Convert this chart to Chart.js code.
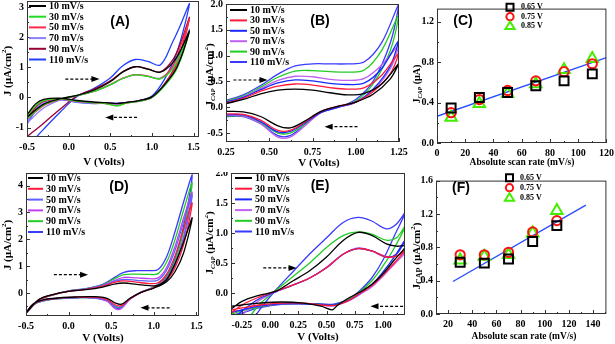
<!DOCTYPE html>
<html>
<head>
<meta charset="utf-8">
<script src="https://cdn.jsdelivr.net/npm/chart.js@4.4.1/dist/chart.umd.min.js"></script>
<style>
  body { margin: 0; background: #fff; }
  #page { position: relative; width: 615px; height: 344px; overflow: hidden; }
  canvas { position: absolute; }
</style>
</head>
<body>
<div id="page">
  <canvas id="cA" width="205" height="172" style="left:0;top:0"></canvas>
  <canvas id="cB" width="205" height="172" style="left:205px;top:0"></canvas>
  <canvas id="cC" width="205" height="172" style="left:410px;top:0"></canvas>
  <canvas id="cD" width="205" height="172" style="left:0;top:172px"></canvas>
  <canvas id="cE" width="205" height="172" style="left:205px;top:172px"></canvas>
  <canvas id="cF" width="205" height="172" style="left:410px;top:172px"></canvas>
</div>
<script>
const SERIF = '"Liberation Serif", "Times New Roman", serif';
const SANS = '"Liberation Sans", Arial, sans-serif';

// ---- shared ----
const scanRates = ['10 mV/s', '30 mV/s', '50 mV/s', '70 mV/s', '90 mV/s', '110 mV/s'];
const rateAxis = [10, 30, 50, 70, 90, 110];

// ---- panel A : CV, J (uA/cm2) vs V ----
const aVfwd = [-0.5, -0.3, -0.1, 0.1, 0.3, 0.5, 0.65, 0.8, 0.95, 1.1, 1.25, 1.35, 1.45];
const aJfwd = [
  [-0.65, -0.22, -0.04, 0.07, 0.24, 0.52, 0.85, 1.02, 0.94, 0.84, 1.15, 1.6, 2.2],
  [-0.7, -0.25, -0.05, 0.06, 0.2, 0.42, 0.63, 0.75, 0.7, 0.62, 0.95, 1.5, 2.2],
  [-0.72, -0.27, -0.06, 0.06, 0.2, 0.43, 0.64, 0.76, 0.71, 0.63, 1.05, 1.75, 2.6],
  [-0.85, -0.35, -0.08, 0.06, 0.2, 0.42, 0.63, 0.75, 0.71, 0.64, 1.0, 1.55, 2.25],
  [-1.3, -0.85, -0.38, 0.05, 0.27, 0.55, 0.85, 1.02, 0.95, 0.85, 1.25, 1.85, 2.65],
  [-1.65, -1.05, -0.48, 0.03, 0.3, 0.65, 1.05, 1.26, 1.2, 1.08, 1.85, 2.45, 3.1]
];
const aVrev = [1.3, 1.15, 1.0, 0.85, 0.7, 0.58, 0.45, 0.3, 0.1, -0.1, -0.3, -0.4, -0.5];
const aJrev = [
  [1.0, 0.42, 0.02, -0.1, -0.16, -0.2, -0.17, -0.15, -0.1, -0.02, -0.06, -0.22, -0.58],
  [0.95, 0.38, 0.0, -0.12, -0.18, -0.28, -0.2, -0.17, -0.12, -0.04, -0.1, -0.28, -0.62],
  [1.1, 0.42, 0.0, -0.12, -0.18, -0.27, -0.2, -0.18, -0.13, -0.05, -0.12, -0.3, -0.68],
  [1.0, 0.4, 0.0, -0.12, -0.18, -0.22, -0.2, -0.19, -0.15, -0.07, -0.18, -0.4, -0.82],
  [1.15, 0.45, 0.02, -0.1, -0.16, -0.2, -0.18, -0.17, -0.13, -0.05, -0.14, -0.35, -0.7],
  [1.5, 0.6, 0.05, -0.1, -0.16, -0.19, -0.19, -0.2, -0.16, -0.08, -0.22, -0.45, -0.88]
];
const aColors = ['#000000', '#22dd22', '#ff2a4a', '#8a7fff', '#990033', '#2040ff'];
const aXTicks = [-0.5, 0, 0.5, 1.0, 1.5];
const aYTicks = [-1, 0, 1, 2, 3];

// ---- panel B : CV, J_CAP vs V ----
const bVfwd = [0.25, 0.35, 0.45, 0.55, 0.65, 0.75, 0.85, 0.95, 1.05, 1.15, 1.25];
const bJfwd = [
  [0.07, 0.15, 0.26, 0.33, 0.35, 0.33, 0.28, 0.24, 0.27, 0.45, 0.85],
  [0.08, 0.17, 0.31, 0.41, 0.45, 0.43, 0.38, 0.35, 0.38, 0.62, 1.05],
  [0.1, 0.19, 0.34, 0.47, 0.53, 0.51, 0.46, 0.44, 0.47, 0.75, 1.3],
  [0.1, 0.2, 0.36, 0.52, 0.6, 0.59, 0.54, 0.52, 0.56, 0.82, 1.2],
  [0.12, 0.22, 0.39, 0.58, 0.7, 0.71, 0.69, 0.68, 0.72, 1.1, 1.8],
  [0.13, 0.24, 0.42, 0.64, 0.8, 0.84, 0.84, 0.84, 0.88, 1.25, 2.0]
];
const bVrev = [1.2, 1.1, 1.0, 0.9, 0.8, 0.7, 0.62, 0.55, 0.45, 0.35, 0.25];
const bJrev = [
  [0.55, 0.25, 0.1, 0.02, -0.08, -0.28, -0.4, -0.36, -0.18, -0.09, -0.08],
  [0.65, 0.3, 0.1, 0.02, -0.08, -0.3, -0.45, -0.45, -0.25, -0.14, -0.13],
  [0.8, 0.35, 0.1, 0.0, -0.1, -0.32, -0.47, -0.48, -0.28, -0.15, -0.15],
  [0.75, 0.32, 0.1, 0.0, -0.1, -0.38, -0.58, -0.58, -0.32, -0.17, -0.16],
  [1.1, 0.45, 0.12, 0.0, -0.1, -0.35, -0.5, -0.5, -0.3, -0.17, -0.17],
  [1.25, 0.5, 0.15, 0.0, -0.1, -0.35, -0.55, -0.55, -0.32, -0.18, -0.18]
];
const bColors = ['#000000', '#ff1a3a', '#1a2aff', '#c060f0', '#22cc22', '#3a3aff'];
const bXTicks = [0.25, 0.5, 0.75, 1.0, 1.25];
const bYTicks = [-0.5, 0, 0.5, 1.0, 1.5, 2.0];

// ---- panel C : J_CAP (uA) vs scan rate ----
const c065 = [0.347, 0.45, 0.5, 0.566, 0.615, 0.684];
const c075 = [0.3, 0.43, 0.52, 0.615, 0.706, 0.784];
const c085 = [0.253, 0.39, 0.49, 0.584, 0.725, 0.834];
const cFitX = [0, 120];
const cFitY = [0.265, 0.845];
const cXTicks = [0, 20, 40, 60, 80, 100, 120];
const cYTicks = [0, 0.4, 0.8, 1.2];

// ---- panel D : CV, J (uA/cm2) vs V ----
const dVfwd = [-0.5, -0.35, -0.2, 0.0, 0.2, 0.4, 0.55, 0.65, 0.8, 0.95, 1.05, 1.15, 1.25, 1.35, 1.45];
const dJfwd = [
  [-0.75, -0.25, -0.07, 0.06, 0.12, 0.22, 0.34, 0.37, 0.32, 0.27, 0.28, 0.5, 1.1, 1.9, 2.8],
  [-0.75, -0.26, -0.08, 0.06, 0.13, 0.25, 0.4, 0.45, 0.4, 0.35, 0.38, 0.7, 1.4, 2.4, 3.35],
  [-0.75, -0.26, -0.08, 0.07, 0.14, 0.27, 0.44, 0.5, 0.47, 0.44, 0.48, 0.85, 1.6, 2.65, 3.65],
  [-0.75, -0.27, -0.08, 0.07, 0.14, 0.28, 0.48, 0.58, 0.56, 0.53, 0.56, 0.95, 1.75, 2.8, 3.75],
  [-0.75, -0.27, -0.09, 0.07, 0.15, 0.3, 0.55, 0.68, 0.7, 0.69, 0.72, 1.15, 2.0, 3.1, 4.1],
  [-0.75, -0.28, -0.09, 0.08, 0.16, 0.32, 0.6, 0.77, 0.83, 0.83, 0.87, 1.35, 2.3, 3.4, 4.4]
];
const dVrev = [1.35, 1.25, 1.15, 1.0, 0.85, 0.72, 0.62, 0.55, 0.45, 0.3, 0.1, -0.1, -0.3, -0.42, -0.5];
const dJrev = [
  [1.5, 0.8, 0.42, 0.18, 0.02, -0.2, -0.42, -0.38, -0.2, -0.14, -0.15, -0.18, -0.26, -0.42, -0.75],
  [1.8, 0.95, 0.48, 0.2, 0.02, -0.22, -0.47, -0.45, -0.24, -0.16, -0.16, -0.19, -0.27, -0.43, -0.75],
  [2.0, 1.05, 0.52, 0.2, 0.02, -0.22, -0.5, -0.5, -0.26, -0.17, -0.17, -0.2, -0.28, -0.44, -0.75],
  [2.1, 1.1, 0.54, 0.21, 0.02, -0.24, -0.58, -0.6, -0.3, -0.18, -0.17, -0.2, -0.29, -0.45, -0.75],
  [2.3, 1.2, 0.58, 0.22, 0.02, -0.22, -0.52, -0.52, -0.28, -0.18, -0.18, -0.21, -0.3, -0.46, -0.75],
  [2.5, 1.3, 0.62, 0.23, 0.03, -0.22, -0.55, -0.55, -0.3, -0.19, -0.18, -0.21, -0.3, -0.46, -0.75]
];
const dColors = ['#000000', '#ff1a3a', '#6060ff', '#c040f0', '#22cc22', '#3a3aff'];
const dXTicks = [-0.5, 0, 0.5, 1.0, 1.5];
const dYTicks = [0, 1, 2, 3, 4];

// ---- panel E : CV, J_CAP vs V ----
const eVfwd = [-0.34, -0.25, -0.1, 0.05, 0.2, 0.35, 0.5, 0.65, 0.78, 0.9, 1.03, 1.12, 1.2];
const eJfwd = [
  [-0.26, -0.14, -0.04, 0.03, 0.2, 0.37, 0.6, 0.88, 1.01, 0.96, 0.82, 0.78, 0.78],
  [-0.33, -0.2, -0.07, 0.03, 0.13, 0.25, 0.42, 0.65, 0.74, 0.7, 0.6, 0.62, 0.72],
  [-0.45, -0.3, -0.1, 0.02, 0.13, 0.25, 0.42, 0.65, 0.74, 0.7, 0.6, 0.65, 0.9],
  [-0.55, -0.37, -0.13, 0.02, 0.13, 0.25, 0.43, 0.65, 0.75, 0.7, 0.61, 0.62, 0.68],
  [-0.8, -0.58, -0.2, 0.04, 0.27, 0.5, 0.76, 0.96, 1.02, 0.98, 0.88, 0.92, 1.13],
  [-1.0, -0.75, -0.3, 0.05, 0.35, 0.65, 0.92, 1.18, 1.26, 1.2, 1.07, 1.15, 1.35]
];
const eVrev = [1.1, 1.0, 0.9, 0.8, 0.7, 0.6, 0.55, 0.45, 0.3, 0.1, -0.1, -0.25, -0.34];
const eJrev = [
  [0.55, 0.32, 0.14, 0.02, -0.08, -0.2, -0.28, -0.22, -0.17, -0.15, -0.17, -0.2, -0.22],
  [0.5, 0.3, 0.12, 0.0, -0.12, -0.2, -0.21, -0.2, -0.17, -0.17, -0.2, -0.25, -0.28],
  [0.6, 0.35, 0.14, 0.0, -0.12, -0.18, -0.2, -0.19, -0.18, -0.18, -0.22, -0.28, -0.32],
  [0.48, 0.28, 0.1, -0.02, -0.13, -0.2, -0.22, -0.2, -0.18, -0.18, -0.22, -0.28, -0.32],
  [0.75, 0.45, 0.2, 0.03, -0.1, -0.18, -0.2, -0.19, -0.18, -0.18, -0.23, -0.3, -0.35],
  [0.95, 0.55, 0.25, 0.05, -0.1, -0.17, -0.19, -0.18, -0.18, -0.19, -0.25, -0.33, -0.37]
];
const eColors = ['#000000', '#ff1a3a', '#1a2aff', '#c060f0', '#22cc22', '#3a3aff'];
const eXTicks = [-0.25, 0, 0.25, 0.5, 0.75, 1.0];
const eYTicks = [0, 0.5, 1.0, 1.5, 2.0];

// ---- panel F : J_CAP (uA/cm2) vs scan rate ----
const fRates = [30, 50, 70, 90, 110];
const f065 = [0.62, 0.61, 0.66, 0.87, 1.06];
const f075 = [0.71, 0.71, 0.74, 0.985, 1.12];
const f085 = [0.645, 0.69, 0.71, 0.97, 1.24];
const fFitX = [24, 134];
const fFitY = [0.39, 1.306];
const fXTicks = [20, 40, 60, 80, 100, 120, 140];
const fYTicks = [0, 0.4, 0.8, 1.2, 1.6];

const potentials = ['0.65 V', '0.75 V', '0.85 V'];

// ---------- helpers ----------
function cvDatasets(vf, jf, vr, jr, colors) {
  return scanRates.map((lab, i) => ({
    label: lab,
    data: vf.map((v, k) => ({ x: v, y: jf[i][k] })).concat(vr.map((v, k) => ({ x: v, y: jr[i][k] }))),
    showLine: true,
    borderColor: colors[i],
    borderWidth: 1.3,
    pointRadius: 0,
    tension: 0.35,
    fill: false
  }));
}

function pointDatasets(xs, sets, fitX, fitY) {
  const styles = [
    { pointStyle: 'rect', color: '#000000', r: 6.3 },
    { pointStyle: 'circle', color: '#ff1010', r: 4.6 },
    { pointStyle: 'triangle', color: '#44ee00', r: 6.6 }
  ];
  const ds = sets.map((vals, i) => ({
    label: potentials[i],
    data: xs.map((x, k) => ({ x: x, y: vals[k] })),
    pointStyle: styles[i].pointStyle,
    pointRadius: styles[i].r,
    pointBorderWidth: 2,
    borderColor: styles[i].color,
    backgroundColor: 'rgba(0,0,0,0)',
    showLine: false
  }));
  ds.push({
    label: 'fit',
    data: fitX.map((x, k) => ({ x: x, y: fitY[k] })),
    showLine: true,
    borderColor: '#2a4cff',
    borderWidth: 1.4,
    pointRadius: 0,
    skipLegend: true
  });
  return ds;
}

function drawRich(ctx, parts, cx, cy, rotate) {
  let total = 0;
  parts.forEach(p => {
    ctx.font = (p.it ? 'italic ' : '') + 'bold ' + p.s + 'px ' + SERIF;
    p.w = ctx.measureText(p.t).width;
    total += p.w;
  });
  ctx.save();
  ctx.translate(cx, cy);
  if (rotate) ctx.rotate(-Math.PI / 2);
  ctx.fillStyle = '#000';
  ctx.textBaseline = 'middle';
  ctx.textAlign = 'left';
  let x = -total / 2;
  parts.forEach(p => {
    ctx.font = (p.it ? 'italic ' : '') + 'bold ' + p.s + 'px ' + SERIF;
    ctx.fillText(p.t, x, p.dy || 0);
    x += p.w;
  });
  ctx.restore();
}

function minorTicks(ticks, min, max) {
  const step = ticks[1] - ticks[0];
  const out = [];
  for (let i = -1; i < ticks.length; i++) {
    const v = (i < 0 ? ticks[0] - step : ticks[i]) + step / 2;
    if (v > min && v < max) out.push(v);
  }
  return out;
}

function makeDecor(cfg) {
  return {
    id: 'decor',
    afterDraw(chart) {
      const ctx = chart.ctx;
      const ca = chart.chartArea;
      const sx = chart.scales.x, sy = chart.scales.y;
      const ox = cfg.box[0], oy = cfg.box[1];
      ctx.save();

      // frame
      ctx.strokeStyle = '#333';
      ctx.lineWidth = 1;
      ctx.strokeRect(ca.left + 0.5, ca.top + 0.5, ca.right - ca.left - 1, ca.bottom - ca.top - 1);

      // inward ticks
      ctx.strokeStyle = '#333';
      ctx.beginPath();
      cfg.x.ticks.forEach(v => {
        const p = Math.round(sx.getPixelForValue(v)) + 0.5;
        ctx.moveTo(p, ca.bottom); ctx.lineTo(p, ca.bottom - 4);
      });
      minorTicks(cfg.x.ticks, cfg.x.min, cfg.x.max).forEach(v => {
        const p = Math.round(sx.getPixelForValue(v)) + 0.5;
        ctx.moveTo(p, ca.bottom); ctx.lineTo(p, ca.bottom - 2);
      });
      cfg.y.ticks.forEach(v => {
        const p = Math.round(sy.getPixelForValue(v)) + 0.5;
        ctx.moveTo(ca.left, p); ctx.lineTo(ca.left + 4, p);
      });
      minorTicks(cfg.y.ticks, cfg.y.min, cfg.y.max).forEach(v => {
        const p = Math.round(sy.getPixelForValue(v)) + 0.5;
        ctx.moveTo(ca.left, p); ctx.lineTo(ca.left + 2, p);
      });
      ctx.stroke();

      // dashed arrows
      (cfg.arrows || []).forEach(a => {
        const x1 = sx.getPixelForValue(a.from), x2 = sx.getPixelForValue(a.to);
        const y = sy.getPixelForValue(a.y);
        const dir = Math.sign(x2 - x1);
        ctx.strokeStyle = '#000';
        ctx.lineWidth = 1.2;
        ctx.setLineDash([3, 2]);
        ctx.beginPath();
        ctx.moveTo(x1, y); ctx.lineTo(x2 - dir * 7, y);
        ctx.stroke();
        ctx.setLineDash([]);
        ctx.fillStyle = '#000';
        ctx.beginPath();
        ctx.moveTo(x2, y);
        ctx.lineTo(x2 - dir * 8, y - 3);
        ctx.lineTo(x2 - dir * 8, y + 3);
        ctx.closePath();
        ctx.fill();
      });

      // legends
      if (cfg.lineLegend) {
        const L = cfg.lineLegend;
        chart.data.datasets.forEach((ds, i) => {
          const y = L.y - oy + i * L.dy;
          ctx.strokeStyle = ds.borderColor;
          ctx.lineWidth = 2;
          ctx.beginPath();
          ctx.moveTo(L.x - ox, y); ctx.lineTo(L.x - ox + L.len, y);
          ctx.stroke();
          ctx.fillStyle = '#000';
          ctx.font = 'bold 10px ' + SERIF;
          ctx.textBaseline = 'middle';
          ctx.textAlign = 'left';
          ctx.fillText(ds.label, L.x - ox + L.len + 3, y + 0.5);
        });
      }
      if (cfg.pointLegend) {
        const L = cfg.pointLegend;
        chart.data.datasets.filter(ds => !ds.skipLegend).forEach((ds, i) => {
          const x = L.x - ox, y = L.y - oy + i * L.dy;
          ctx.strokeStyle = ds.borderColor;
          ctx.lineWidth = 2;
          ctx.beginPath();
          if (ds.pointStyle === 'rect') ctx.rect(x - 3.5, y - 3.5, 7, 7);
          else if (ds.pointStyle === 'circle') ctx.arc(x, y, 3.6, 0, Math.PI * 2);
          else { ctx.moveTo(x, y - 4.5); ctx.lineTo(x + 4.6, y + 3); ctx.lineTo(x - 4.6, y + 3); ctx.closePath(); }
          ctx.stroke();
          ctx.fillStyle = '#000';
          ctx.font = 'bold 8px ' + SERIF;
          ctx.textBaseline = 'middle';
          ctx.textAlign = 'left';
          ctx.fillText(ds.label, L.tx - ox, y);
        });
      }

      // panel label
      ctx.fillStyle = '#000';
      ctx.font = 'bold 14px ' + SANS;
      ctx.textAlign = 'center';
      ctx.textBaseline = 'middle';
      ctx.fillText(cfg.tag.t, cfg.tag.x - ox, cfg.tag.y - oy);

      // axis titles
      drawRich(ctx, cfg.xTitle.parts, cfg.xTitle.x - ox, cfg.xTitle.y - oy, false);
      drawRich(ctx, cfg.yTitle.parts, cfg.yTitle.x - ox, cfg.yTitle.y - oy, true);
      ctx.restore();
    }
  };
}

function axisOpts(a, isX, size) {
  return {
    type: 'linear',
    position: isX ? 'bottom' : 'left',
    min: a.min,
    max: a.max,
    grid: { display: false, drawTicks: false },
    border: { display: false },
    ticks: {
      autoSkip: false,
      maxRotation: 0,
      padding: isX ? 4 : 3,
      color: '#000',
      font: { family: SERIF, size: 10, weight: 'bold' },
      callback: v => Number(v).toFixed(a.dec)
    },
    afterBuildTicks: s => { s.ticks = a.ticks.map(v => ({ value: v })); },
    afterFit: s => {
      if (isX) s.height = size; else s.width = size;
      s.paddingLeft = 0; s.paddingRight = 0; s.paddingTop = 0; s.paddingBottom = 0;
    }
  };
}

function makeChart(cfg) {
  const [bl, bt, bw, bh] = cfg.box;
  const [al, at, ar, ab] = cfg.area;
  return new Chart(document.getElementById(cfg.id), {
    type: 'scatter',
    data: { datasets: cfg.datasets },
    options: {
      responsive: false,
      animation: false,
      layout: { padding: { left: 0, top: at - bt, right: bl + bw - ar, bottom: 0 } },
      plugins: { legend: { display: false }, tooltip: { enabled: false } },
      scales: {
        x: axisOpts(cfg.x, true, bt + bh - ab),
        y: axisOpts(cfg.y, false, al - bl)
      }
    },
    plugins: [makeDecor(cfg)]
  });
}

const titleJ = [{ t: 'J (µA/cm', s: 11 }, { t: '2', s: 7, dy: -4 }, { t: ')', s: 11 }];
const titleJcap = [{ t: 'J', s: 11 }, { t: 'CAP', s: 6.5, dy: 3, it: true }, { t: ' (µA/cm', s: 11 }, { t: '2', s: 7, dy: -4 }, { t: ')', s: 11 }];
const titleJcapF = [{ t: 'J', s: 11 }, { t: 'CAP', s: 8, dy: 3 }, { t: ' (µA/cm', s: 11 }, { t: '2', s: 7, dy: -4 }, { t: ')', s: 11 }];
const titleJcapC = [{ t: 'J', s: 10 }, { t: 'CAP', s: 6, dy: 3, it: true }, { t: ' (µA)', s: 10 }];
const titleV = [{ t: 'V (Volts)', s: 11 }];
const titleRate = [{ t: 'Absolute scan rate (mV/s)', s: 9.5 }];

// ---------- panels ----------
makeChart({
  id: 'cA', box: [0, 0, 205, 172], area: [27, 1, 199, 137],
  x: { min: -0.5, max: 1.565, ticks: aXTicks, dec: 1 },
  y: { min: -1.31, max: 3.2, ticks: aYTicks, dec: 0 },
  datasets: cvDatasets(aVfwd, aJfwd, aVrev, aJrev, aColors),
  lineLegend: { x: 29, y: 6, dy: 10.7, len: 17 },
  arrows: [{ from: -0.04, to: 0.37, y: 0.61 }, { from: 0.82, to: 0.44, y: -0.66 }],
  tag: { t: '(A)', x: 120, y: 22 },
  xTitle: { parts: titleV, x: 104, y: 162 },
  yTitle: { parts: titleJ, x: 8, y: 71 }
});

makeChart({
  id: 'cB', box: [205, 0, 205, 172], area: [226, 4, 399, 142],
  x: { min: 0.25, max: 1.25, ticks: bXTicks, dec: 2 },
  y: { min: -0.674, max: 2.0, ticks: bYTicks, dec: 1 },
  datasets: cvDatasets(bVfwd, bJfwd, bVrev, bJrev, bColors),
  lineLegend: { x: 230, y: 10, dy: 10.4, len: 17 },
  arrows: [{ from: 0.293, to: 0.49, y: 0.527 }, { from: 1.01, to: 0.82, y: -0.377 }],
  tag: { t: '(B)', x: 320, y: 21 },
  xTitle: { parts: titleV, x: 319, y: 163 },
  yTitle: { parts: titleJcap, x: 210, y: 75 }
});

makeChart({
  id: 'cC', box: [410, 0, 205, 172], area: [437, 1, 608, 143],
  x: { min: 0, max: 120, ticks: cXTicks, dec: 0 },
  y: { min: 0, max: 1.33, ticks: cYTicks, dec: 1 },
  datasets: pointDatasets(rateAxis, [c065, c075, c085], cFitX, cFitY),
  pointLegend: { x: 510, y: 7.3, dy: 9.4, tx: 521 },
  tag: { t: '(C)', x: 463, y: 21 },
  xTitle: { parts: titleRate, x: 522, y: 163 },
  yTitle: { parts: titleJcapC, x: 417, y: 84 }
});

makeChart({
  id: 'cD', box: [0, 172, 205, 172], area: [26, 173, 199, 316],
  x: { min: -0.5, max: 1.53, ticks: dXTicks, dec: 1 },
  y: { min: -0.86, max: 4.47, ticks: dYTicks, dec: 0 },
  datasets: cvDatasets(dVfwd, dJfwd, dVrev, dJrev, dColors),
  lineLegend: { x: 28, y: 178, dy: 10.8, len: 15 },
  arrows: [{ from: -0.173, to: 0.228, y: 0.68 }, { from: 1.185, to: 0.843, y: -0.556 }],
  tag: { t: '(D)', x: 119, y: 187 },
  xTitle: { parts: titleV, x: 103, y: 338 },
  yTitle: { parts: titleJ, x: 8, y: 245 }
});

makeChart({
  id: 'cE', box: [205, 172, 205, 172], area: [231, 173, 405, 315],
  x: { min: -0.347, max: 1.195, ticks: eXTicks, dec: 2 },
  y: { min: -0.367, max: 2.0, ticks: eYTicks, dec: 1 },
  datasets: cvDatasets(eVfwd, eJfwd, eVrev, eJrev, eColors),
  lineLegend: { x: 235, y: 178, dy: 10.7, len: 17 },
  arrows: [{ from: -0.061, to: 0.234, y: 0.417 }, { from: 1.178, to: 0.889, y: -0.222 }],
  tag: { t: '(E)', x: 320, y: 186 },
  xTitle: { parts: titleV, x: 318, y: 337 },
  yTitle: { parts: titleJcap, x: 210, y: 243 }
});

makeChart({
  id: 'cF', box: [410, 172, 205, 172], area: [436, 173, 609, 314],
  x: { min: 10, max: 151, ticks: fXTicks, dec: 0 },
  y: { min: 0, max: 1.6, ticks: fYTicks, dec: 1 },
  datasets: pointDatasets(fRates, [f065, f075, f085], fFitX, fFitY),
  pointLegend: { x: 509.5, y: 177.7, dy: 10, tx: 520 },
  tag: { t: '(F)', x: 461, y: 188 },
  xTitle: { parts: titleRate, x: 524, y: 336.5 },
  yTitle: { parts: titleJcapF, x: 417, y: 256 }
});
</script>
</body>
</html>
